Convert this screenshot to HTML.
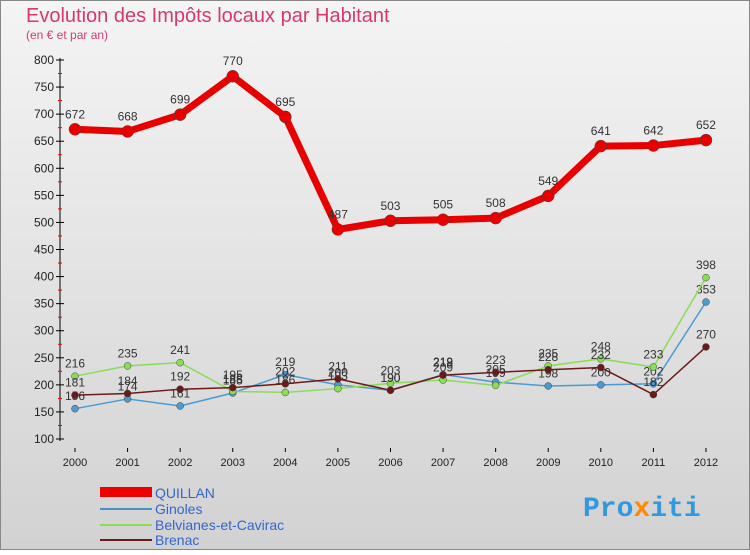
<!DOCTYPE html>
<html><head><meta charset="utf-8"><style>
body{margin:0;width:750px;height:550px;overflow:hidden;font-family:"Liberation Sans",sans-serif}
</style></head><body>
<svg width="750" height="550" xmlns="http://www.w3.org/2000/svg">
<defs><linearGradient id="bg" x1="0" y1="0" x2="0" y2="1"><stop offset="0" stop-color="#f4f4f4"/><stop offset="1" stop-color="#d2d2d2"/></linearGradient></defs>
<rect x="0.5" y="0.5" width="749" height="549" fill="url(#bg)" stroke="#888"/>
<text x="26" y="22" font-size="20" fill="#d63a6b">Evolution des Impôts locaux par Habitant</text>
<text x="26" y="39" font-size="12" fill="#d63a6b">(en € et par an)</text>
<g id="axes"></g><g id="series"></g>
<g>
<rect x="100" y="487" width="52" height="10" fill="#e00"/>
<text x="155" y="498" font-size="14" fill="#3366cc">QUILLAN</text>
<line x1="100" y1="509" x2="152" y2="509" stroke="#4a90c8" stroke-width="2"/>
<text x="155" y="514" font-size="14" fill="#3366cc">Ginoles</text>
<line x1="100" y1="525" x2="152" y2="525" stroke="#88dd55" stroke-width="2"/>
<text x="155" y="530" font-size="14" fill="#3366cc">Belvianes-et-Cavirac</text>
<line x1="100" y1="540" x2="152" y2="540" stroke="#6b1a1a" stroke-width="2"/>
<text x="155" y="545" font-size="14" fill="#3366cc">Brenac</text>
</g>
<text x="583" y="516" font-size="28" font-family="Liberation Mono, monospace" font-weight="bold" fill="#3399dd">Pro<tspan fill="#ff8800">x</tspan>iti</text>
</svg>
<script>
const years=[2000,2001,2002,2003,2004,2005,2006,2007,2008,2009,2010,2011,2012];
const quillan=[672,668,699,770,695,487,503,505,508,549,641,642,652];
const ginoles=[156,174,161,185,219,200,190,219,205,198,200,202,353];
const belvianes=[216,235,241,188,186,193,203,209,199,235,248,233,398];
const brenac=[181,184,192,195,202,211,190,218,223,228,232,182,270];
const yTicks=[100,150,200,250,300,350,400,450,500,550,600,650,700,750,800];
const NS="http://www.w3.org/2000/svg";
const X=i=>75+i*52.58, Y=v=>60+(800-v)*379/700;
function mk(t,a,p){const e=document.createElementNS(NS,t);for(const k in a)e.setAttribute(k,a[k]);p.appendChild(e);return e;}
const ax=document.getElementById('axes');
const yl=mk('line',{x1:60,y1:58,x2:60,y2:441,stroke:'#000'},ax);


const xl=mk('line',{x1:60,y1:450,x2:720,y2:450,stroke:'none'},ax);


yTicks.forEach(v=>{
 mk('line',{x1:56,y1:Y(v),x2:64,y2:Y(v),stroke:'#000'},ax);
 if(v<800)mk('line',{x1:58,y1:Y(v+25),x2:62,y2:Y(v+25),stroke:'#e00'},ax);
 const t=mk('text',{x:54,y:Y(v)+4,'font-size':12,'text-anchor':'end',fill:'#222'},ax);t.textContent=v;
 
 
});
years.forEach((y,i)=>{
 mk('line',{x1:X(i),y1:448,x2:X(i),y2:452,stroke:'#000'},ax);
 const t=mk('text',{x:X(i),y:466,'font-size':11,'text-anchor':'middle',fill:'#222'},ax);t.textContent=y;
 
 
});
const sg=document.getElementById('series');
function series(name,data,color,lw,r,fs){
 const g=mk('g',{},sg);
 
 
 const p=mk('polyline',{points:data.map((v,i)=>X(i)+','+Y(v)).join(' '),fill:'none',stroke:color,'stroke-width':lw,'stroke-linejoin':'round'},g);
 
 
 data.forEach((v,i)=>{
  const c=mk('circle',{cx:X(i),cy:Y(v),r:r,fill:color,stroke:'#444','stroke-width':0.5},g);
  
  
  const t=mk('text',{x:X(i),y:Y(v)-(r+5),'font-size':fs,'text-anchor':'middle',fill:'#333'},g);t.textContent=v;
  
  
 });
}
series('ginoles',ginoles,'#4a9ad4',1.5,3.5,12);
series('belvianes',belvianes,'#88dd55',1.5,3.5,12);
series('brenac',brenac,'#6b1a1a',1.5,3.5,12);
series('quillan',quillan,'#e80000',7,6,12);
</script>
</body></html>
